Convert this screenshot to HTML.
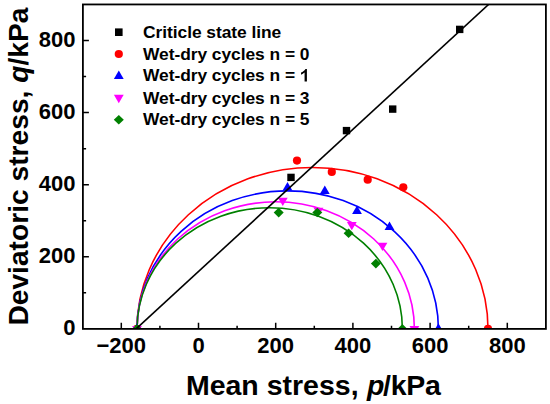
<!DOCTYPE html><html><head><meta charset="utf-8"><style>html,body{margin:0;padding:0;background:#fff;}svg{display:block;}text{font-family:"Liberation Sans",sans-serif;font-weight:bold;fill:#000;}</style></head><body>
<svg width="550" height="404" viewBox="0 0 550 404">
<defs><clipPath id="c"><rect x="82.90" y="4.45" width="463.00" height="324.45"/></clipPath></defs>
<g clip-path="url(#c)" fill="none" stroke-width="1.60">
<path d="M137.00 328.90 A175.50 161.40 0 0 1 488.00 328.90" stroke="#ff0000"/>
<path d="M137.00 328.90 A150.70 138.00 0 0 1 438.40 328.90" stroke="#0000ff"/>
<path d="M137.00 328.90 A138.70 127.10 0 0 1 414.40 328.90" stroke="#ff00ff"/>
<path d="M137.00 328.90 A132.70 121.20 0 0 1 402.40 328.90" stroke="#008000"/>
</g>
<g clip-path="url(#c)">
<rect x="287.30" y="173.70" width="7.40" height="7.40" fill="#000"/>
<rect x="342.80" y="126.90" width="7.40" height="7.40" fill="#000"/>
<rect x="389.00" y="105.40" width="7.40" height="7.40" fill="#000"/>
<rect x="456.00" y="25.70" width="7.40" height="7.40" fill="#000"/>
<circle cx="137.00" cy="328.90" r="4.10" fill="#ff0000"/>
<circle cx="297.00" cy="160.60" r="4.10" fill="#ff0000"/>
<circle cx="331.80" cy="171.90" r="4.10" fill="#ff0000"/>
<circle cx="367.70" cy="179.70" r="4.10" fill="#ff0000"/>
<circle cx="403.30" cy="187.30" r="4.10" fill="#ff0000"/>
<circle cx="488.00" cy="328.90" r="4.10" fill="#ff0000"/>
<path d="M137.00 323.30L141.90 331.70L132.10 331.70Z" fill="#0000ff"/>
<path d="M287.50 182.00L292.40 190.40L282.60 190.40Z" fill="#0000ff"/>
<path d="M324.80 185.50L329.70 193.90L319.90 193.90Z" fill="#0000ff"/>
<path d="M357.00 205.50L361.90 213.90L352.10 213.90Z" fill="#0000ff"/>
<path d="M389.50 221.60L394.40 230.00L384.60 230.00Z" fill="#0000ff"/>
<path d="M438.40 323.30L443.30 331.70L433.50 331.70Z" fill="#0000ff"/>
<path d="M137.00 334.50L141.90 326.10L132.10 326.10Z" fill="#ff00ff"/>
<path d="M282.80 206.10L287.70 197.70L277.90 197.70Z" fill="#ff00ff"/>
<path d="M318.50 216.10L323.40 207.70L313.60 207.70Z" fill="#ff00ff"/>
<path d="M351.80 230.30L356.70 221.90L346.90 221.90Z" fill="#ff00ff"/>
<path d="M382.50 251.10L387.40 242.70L377.60 242.70Z" fill="#ff00ff"/>
<path d="M414.40 334.50L419.30 326.10L409.50 326.10Z" fill="#ff00ff"/>
<path d="M137.00 324.10L142.00 328.90L137.00 333.70L132.00 328.90Z" fill="#008000"/>
<path d="M278.70 207.80L283.70 212.60L278.70 217.40L273.70 212.60Z" fill="#008000"/>
<path d="M317.30 207.70L322.30 212.50L317.30 217.30L312.30 212.50Z" fill="#008000"/>
<path d="M348.60 228.40L353.60 233.20L348.60 238.00L343.60 233.20Z" fill="#008000"/>
<path d="M375.90 258.80L380.90 263.60L375.90 268.40L370.90 263.60Z" fill="#008000"/>
<path d="M402.40 324.10L407.40 328.90L402.40 333.70L397.40 328.90Z" fill="#008000"/>
</g>
<line x1="136.13" y1="328.90" x2="488.59" y2="4.45" stroke="#000" stroke-width="1.6" clip-path="url(#c)"/>
<rect x="82.90" y="4.45" width="463.00" height="324.45" fill="none" stroke="#000" stroke-width="1.8"/>
<path d="M121.30 328.90V322.70M159.90 328.90V325.70M198.50 328.90V322.70M237.10 328.90V325.70M275.70 328.90V322.70M314.30 328.90V325.70M352.90 328.90V322.70M391.50 328.90V325.70M430.10 328.90V322.70M468.70 328.90V325.70M507.30 328.90V322.70M82.90 292.85H86.10M82.90 256.80H88.90M82.90 220.75H86.10M82.90 184.70H88.90M82.90 148.65H86.10M82.90 112.60H88.90M82.90 76.55H86.10M82.90 40.50H88.90" stroke="#000" stroke-width="1.5" fill="none"/>
<text x="121.30" y="353.4" font-size="22" text-anchor="middle">−200</text>
<text x="198.50" y="353.4" font-size="22" text-anchor="middle">0</text>
<text x="275.70" y="353.4" font-size="22" text-anchor="middle">200</text>
<text x="352.90" y="353.4" font-size="22" text-anchor="middle">400</text>
<text x="430.10" y="353.4" font-size="22" text-anchor="middle">600</text>
<text x="507.30" y="353.4" font-size="22" text-anchor="middle">800</text>
<text x="75.4" y="335.00" font-size="22" text-anchor="end">0</text>
<text x="75.4" y="262.90" font-size="22" text-anchor="end">200</text>
<text x="75.4" y="190.80" font-size="22" text-anchor="end">400</text>
<text x="75.4" y="118.70" font-size="22" text-anchor="end">600</text>
<text x="75.4" y="46.60" font-size="22" text-anchor="end">800</text>
<text x="185.9" y="394.6" font-size="28.5">Mean stress,</text>
<text x="366.9" y="394.6" font-size="28.5" font-style="italic">p</text>
<text x="383.1" y="394.6" font-size="28.5" letter-spacing="-0.3">/kPa</text>
<text transform="translate(28.3 325.6) rotate(-90)" font-size="28.2">Deviatoric stress, <tspan font-style="italic">q</tspan>/kPa</text>
<rect x="115.00" y="28.40" width="7.60" height="7.60" fill="#000"/>
<text x="143.00" y="37.60" font-size="17.4" letter-spacing="-0.050" xml:space="preserve">Criticle state line</text>
<circle cx="118.80" cy="54.00" r="4.10" fill="#ff0000"/>
<text x="143.00" y="60.20" font-size="17.4" letter-spacing="-0.050" xml:space="preserve">Wet-dry cycles n = 0</text>
<path d="M118.80 70.60L123.70 79.00L113.90 79.00Z" fill="#0000ff"/>
<text x="143.00" y="81.40" font-size="17.4" letter-spacing="-0.050" xml:space="preserve">Wet-dry cycles n = </text>
<path d="M118.80 103.20L123.70 94.80L113.90 94.80Z" fill="#ff00ff"/>
<text x="143.00" y="104.20" font-size="17.4" letter-spacing="-0.050" xml:space="preserve">Wet-dry cycles n = 3</text>
<path d="M118.80 115.00L123.80 119.80L118.80 124.60L113.80 119.80Z" fill="#008000"/>
<text x="143.00" y="125.00" font-size="17.4" letter-spacing="-0.050" xml:space="preserve">Wet-dry cycles n = 5</text>
<path transform="translate(300.1 81.40) scale(0.008496 -0.008496)" d="M802 0L527 0L527 1036Q452 965 330 893Q208 821 111 786L111 1034Q264 1091 420 1213Q576 1335 634 1466L802 1466Z" fill="#000"/>
</svg></body></html>
